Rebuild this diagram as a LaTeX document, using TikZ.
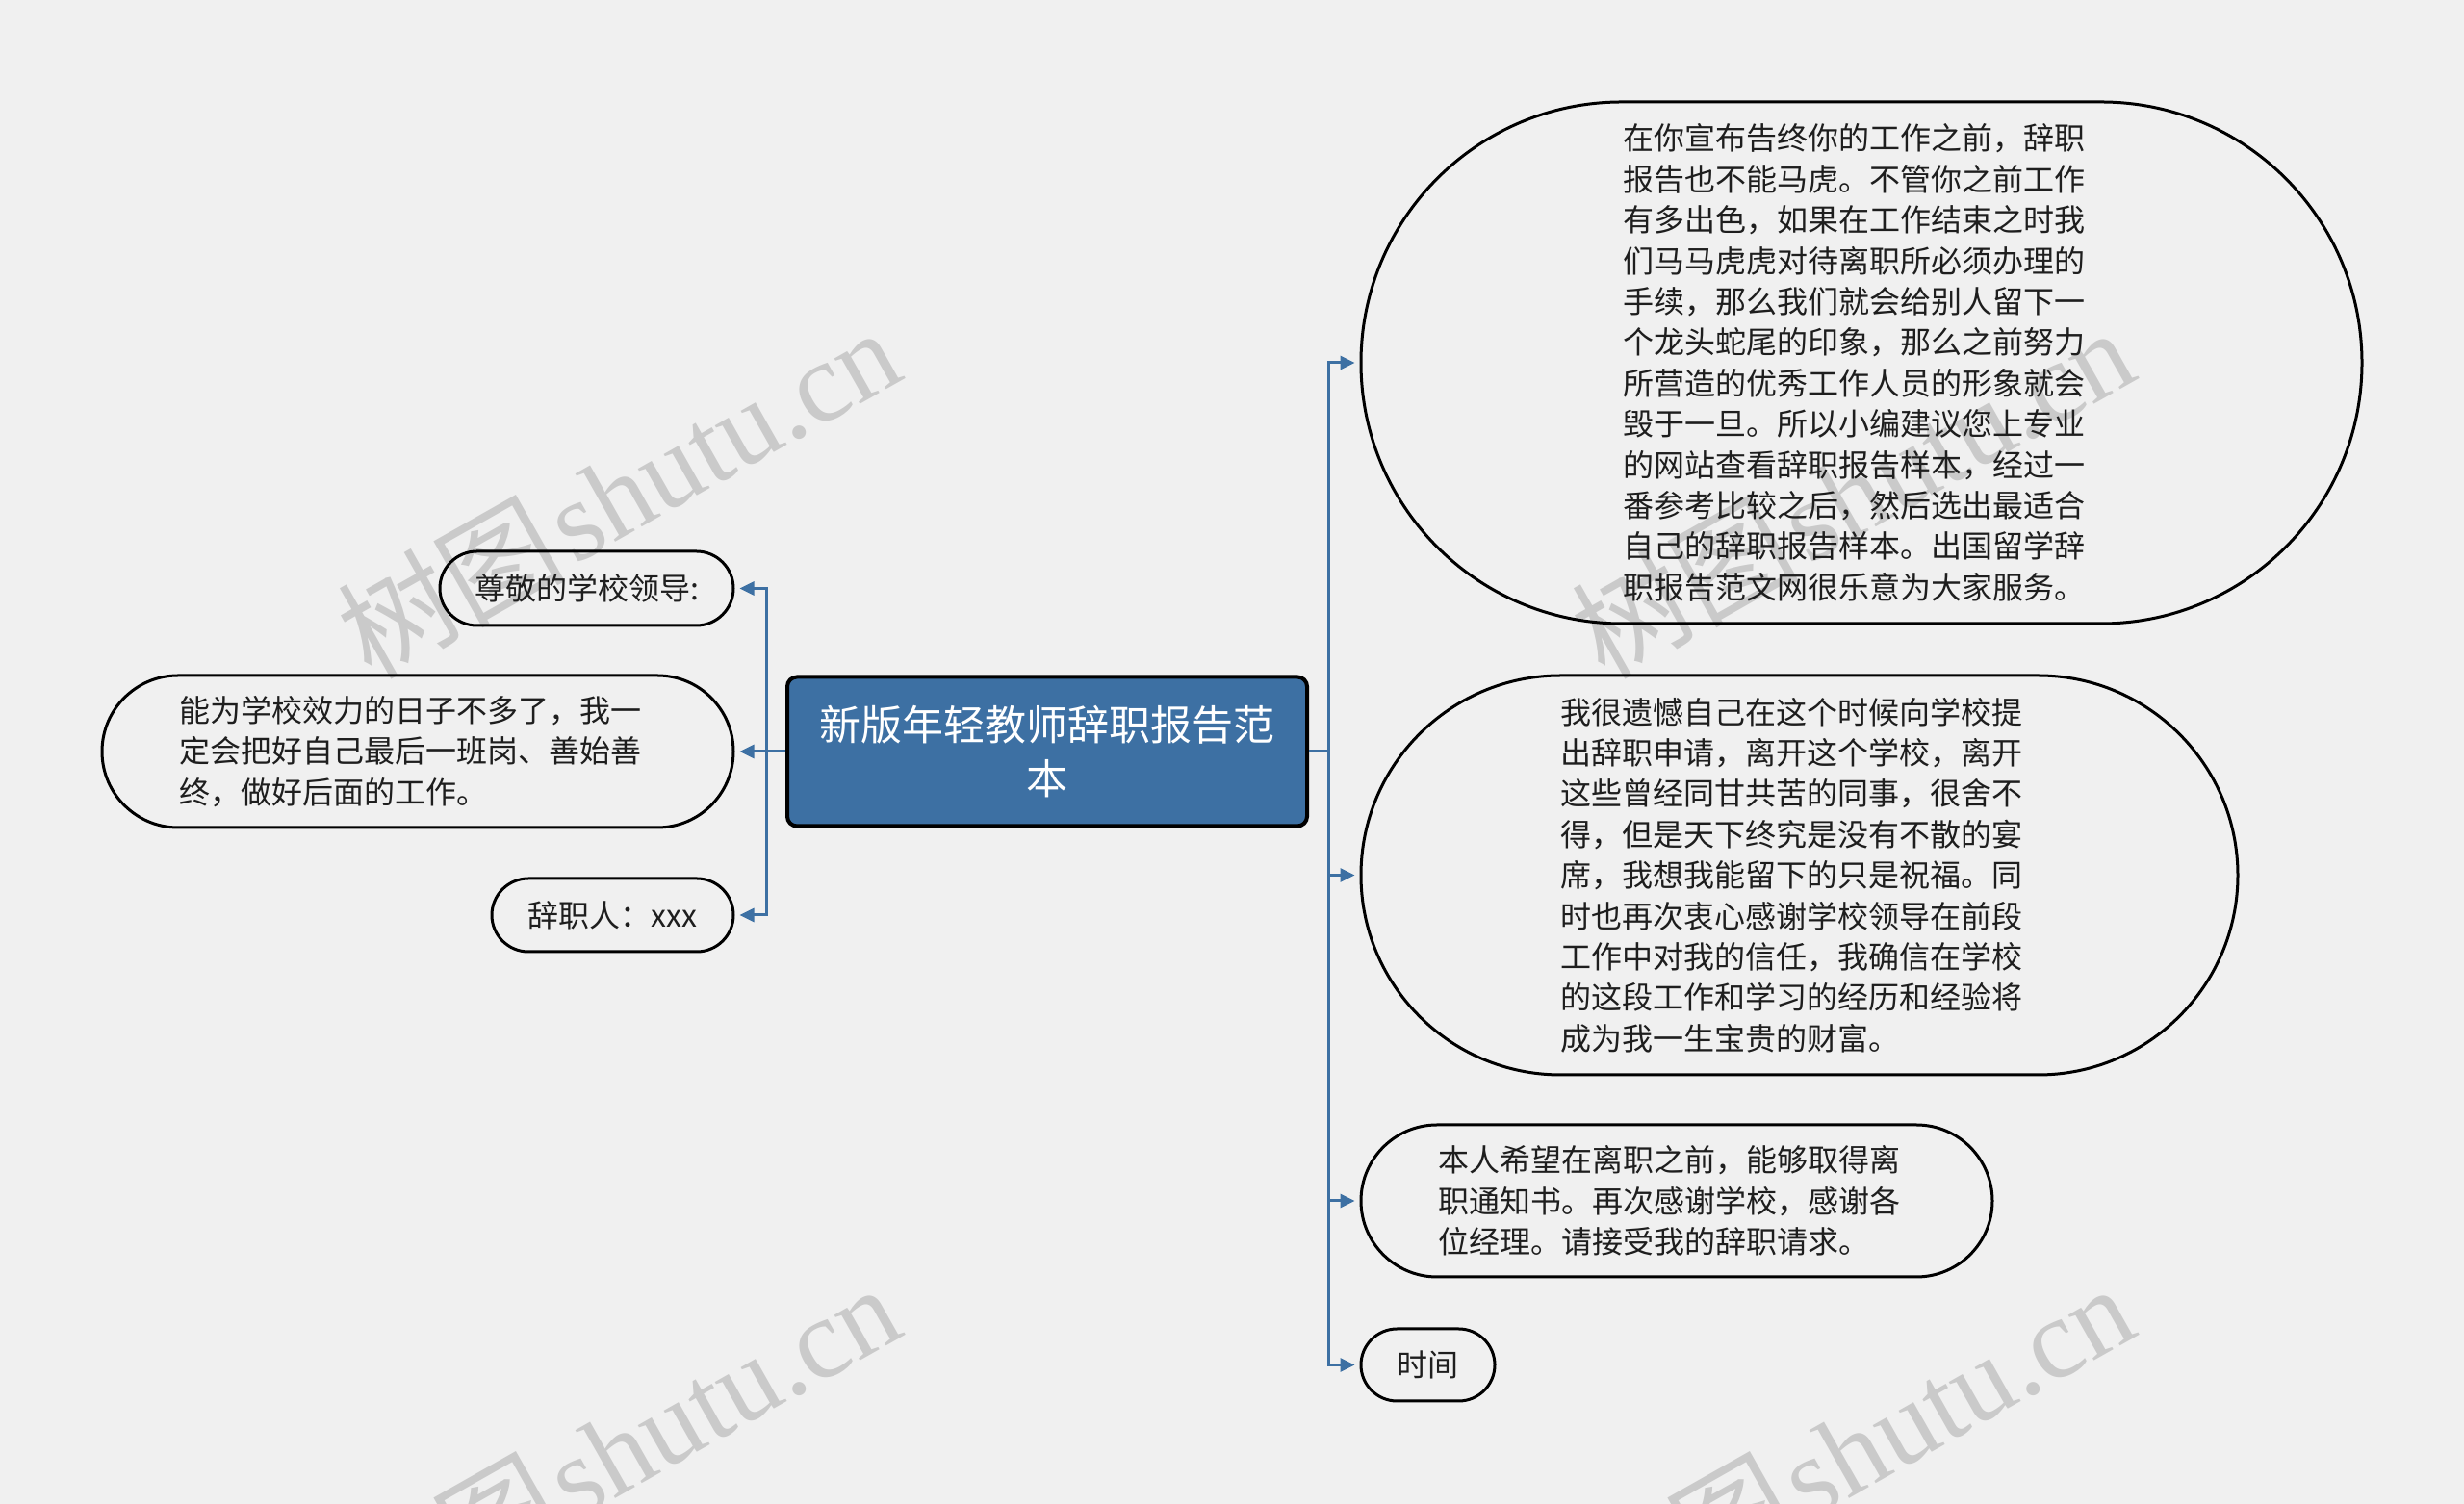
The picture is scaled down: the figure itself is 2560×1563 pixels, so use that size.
\documentclass[tikz,border=0pt]{standalone}
\usepackage{fontspec}
\setmainfont{Noto Sans CJK SC}
\newfontfamily\wmlatin{Liberation Serif}
\usetikzlibrary{shapes.misc,arrows.meta}
\definecolor{bgc}{RGB}{240,240,240}
\definecolor{bluec}{RGB}{61,112,163}
\definecolor{wmc}{RGB}{202,202,202}
\definecolor{txtc}{RGB}{30,30,30}
\begin{document}
\begin{tikzpicture}[x=1pt,y=1pt,
  leaf/.style={rounded rectangle, draw=black, line width=3pt, inner sep=0pt,
    text=txtc, align=left, font=\fontsize{32}{42.4}\selectfont},
  root/.style={rectangle, rounded corners=10pt, draw=black, line width=4pt,
    fill=bluec, text=white, align=center, inner sep=0pt,
    font=\fontsize{43}{56}\selectfont},
  conn/.style={draw=bluec, line width=3pt,
    -{Triangle[length=15pt,width=14pt]}, shorten >=5pt},
  wm/.style={text=wmc, rotate=29.5, inner sep=0pt,
    font=\fontsize{118}{118}\selectfont}]
\useasboundingbox[fill=bgc] (0,0) rectangle (2560,1563);

% watermarks
\node[wm] (wm1) at (642,1052) {树图{\wmlatin\hspace{8pt}shutu.cn}};
\node[wm] (wm2) at (1924,1052) {树图{\wmlatin\hspace{8pt}shutu.cn}};
\node[wm] (wm3) at (642,58) {树图{\wmlatin\hspace{8pt}shutu.cn}};
\node[wm] (wm4) at (1924,58) {树图{\wmlatin\hspace{8pt}shutu.cn}};

% root
\node[root, minimum width=540pt, minimum height=155pt] (c) at (1088,782)
  {新版年轻教师辞职报告范\\本};

% left children
\node[leaf, minimum width=305pt, minimum height=77pt] (l1) at (609.5,951.5)
  {尊敬的学校领导:};
\node[leaf, minimum width=656pt, minimum height=158pt] (l2) at (434,782)
  {能为学校效力的日子不多了，我一\hspace*{16pt}\\定会把好自己最后一班岗、善始善\\终，做好后面的工作。};
\node[leaf, minimum width=251pt, minimum height=76pt] (l3) at (636.5,612)
  {辞职人：xxx};

% right children
\node[leaf, minimum width=1040pt, minimum height=542pt] (r1) at (1934,1186)
  {在你宣布告终你的工作之前，辞职\hspace*{16pt}\\报告也不能马虎。不管你之前工作\\有多出色，如果在工作结束之时我\\们马马虎虎对待离职所必须办理的\\手续，那么我们就会给别人留下一\\个龙头蛇尾的印象，那么之前努力\\所营造的优秀工作人员的形象就会\\毁于一旦。所以小编建议您上专业\\的网站查看辞职报告样本，经过一\\番参考比较之后，然后选出最适合\\自己的辞职报告样本。出国留学辞\\职报告范文网很乐意为大家服务。};
\node[leaf, minimum width=911pt, minimum height=415pt] (r2) at (1869.5,653.5)
  {我很遗憾自己在这个时候向学校提\hspace*{16pt}\\出辞职申请，离开这个学校，离开\\这些曾经同甘共苦的同事，很舍不\\得，但是天下终究是没有不散的宴\\席，我想我能留下的只是祝福。同\\时也再次衷心感谢学校领导在前段\\工作中对我的信任，我确信在学校\\的这段工作和学习的经历和经验将\\成为我一生宝贵的财富。};
\node[leaf, minimum width=656pt, minimum height=158pt] (r3) at (1742,315)
  {本人希望在离职之前，能够取得离\hspace*{16pt}\\职通知书。再次感谢学校，感谢各\\位经理。请接受我的辞职请求。};
\node[leaf, minimum width=139pt, minimum height=75pt] (r4) at (1483.5,144.5)
  {时间};

% connectors
\draw[conn] (c.west) -- ++(-20,0) |- (l1.east);
\draw[conn] (c.west) -- (l2.east);
\draw[conn] (c.west) -- ++(-20,0) |- (l3.east);
\draw[conn] (c.east) -- ++(20,0) |- (r1.west);
\draw[conn] (c.east) -- ++(20,0) |- (r2.west);
\draw[conn] (c.east) -- ++(20,0) |- (r3.west);
\draw[conn] (c.east) -- ++(20,0) |- (r4.west);
\end{tikzpicture}
\end{document}
